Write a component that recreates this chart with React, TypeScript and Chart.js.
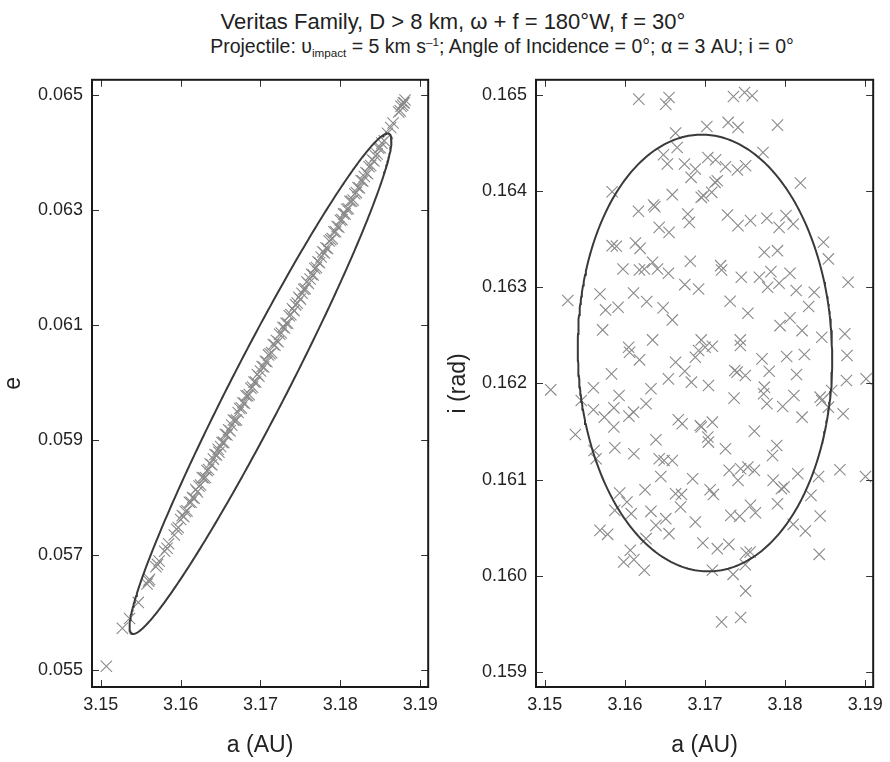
import { useEffect, useRef } from "react";
import { Chart, registerables } from "chart.js";

Chart.register(...registerables);

const FONT = '"Liberation Sans", Arial, Helvetica, sans-serif';

// ---------- Left panel: a (AU) vs e ----------
const leftA = [
  3.1507, 3.1527, 3.1536, 3.1547, 3.1558, 3.156, 3.1561, 3.1569, 3.1571, 3.1573, 3.158, 3.1583, 3.1585, 3.1592, 3.1595, 3.1597,
  3.16, 3.1602, 3.1604, 3.1606, 3.1608, 3.1611, 3.1613, 3.1615, 3.1617, 3.1619, 3.1621, 3.1623, 3.1625, 3.1627, 3.1629, 3.1631,
  3.1633, 3.1635, 3.1637, 3.1639, 3.1641, 3.1643, 3.1645, 3.1647, 3.1648, 3.165, 3.1652, 3.1654, 3.1656, 3.1658, 3.166, 3.1662,
  3.1664, 3.1666, 3.1668, 3.167, 3.1672, 3.1674, 3.1676, 3.1678, 3.168, 3.1682, 3.1684, 3.1686, 3.1688, 3.169, 3.1692, 3.1694,
  3.1696, 3.1698, 3.17, 3.1702, 3.1704, 3.1706, 3.1708, 3.171, 3.1712, 3.1714, 3.1716, 3.1718, 3.172, 3.1722, 3.1724, 3.1726,
  3.1728, 3.173, 3.1732, 3.1734, 3.1736, 3.1738, 3.174, 3.1742, 3.1744, 3.1746, 3.1748, 3.175, 3.1752, 3.1754, 3.1756, 3.1758,
  3.176, 3.1762, 3.1764, 3.1766, 3.1768, 3.177, 3.1772, 3.1774, 3.1776, 3.1778, 3.178, 3.1782, 3.1784, 3.1786, 3.1788, 3.179,
  3.1792, 3.1794, 3.1796, 3.1798, 3.18, 3.1802, 3.1804, 3.1806, 3.1808, 3.181, 3.1812, 3.1814, 3.1816, 3.1818, 3.182, 3.1822,
  3.1824, 3.1826, 3.1828, 3.183, 3.1832, 3.1834, 3.1836, 3.1838, 3.184, 3.1842, 3.1844, 3.1846, 3.1848, 3.185, 3.1852, 3.1855,
  3.1859, 3.1863, 3.1866, 3.1873, 3.1875, 3.1876, 3.1878, 3.1879, 3.188, 3.1881,
];
const leftE = [
  0.05507, 0.05573, 0.0559, 0.05618, 0.0565, 0.05655, 0.05658, 0.0568, 0.05684, 0.0569, 0.05707, 0.05712, 0.0572, 0.05735, 0.05745, 0.05748,
  0.05762, 0.05769, 0.05767, 0.05776, 0.05777, 0.05792, 0.05792, 0.058, 0.05799, 0.05814, 0.0581, 0.0582, 0.05822, 0.05835, 0.05834, 0.05835,
  0.05847, 0.05849, 0.05859, 0.05857, 0.05867, 0.05875, 0.05874, 0.05884, 0.05879, 0.05889, 0.05896, 0.05896, 0.0591, 0.05909, 0.05918, 0.05916,
  0.05926, 0.05935, 0.05934, 0.05935, 0.05948, 0.05955, 0.05956, 0.05965, 0.05964, 0.05977, 0.05977, 0.05979, 0.0599, 0.05992, 0.06001, 0.06001,
  0.06014, 0.06011, 0.0602, 0.06028, 0.06027, 0.06037, 0.06036, 0.06048, 0.0605, 0.06052, 0.06066, 0.06065, 0.06073, 0.06071, 0.06084, 0.06086,
  0.06096, 0.06095, 0.06103, 0.06103, 0.06116, 0.06118, 0.06128, 0.06125, 0.06135, 0.06138, 0.06148, 0.06145, 0.06155, 0.06162, 0.06163, 0.06175,
  0.06172, 0.0618, 0.06188, 0.06187, 0.06198, 0.062, 0.0621, 0.06208, 0.06218, 0.06227, 0.06225, 0.06234, 0.06233, 0.06246, 0.06248, 0.0625,
  0.06262, 0.06262, 0.06271, 0.0627, 0.06282, 0.06283, 0.06293, 0.06293, 0.06301, 0.06302, 0.06315, 0.06315, 0.06317, 0.06328, 0.0633, 0.06339,
  0.06338, 0.06351, 0.0635, 0.06358, 0.06365, 0.06363, 0.06375, 0.06377, 0.06387, 0.06385, 0.06394, 0.06397, 0.06407, 0.06408, 0.06416, 0.0642,
  0.06433, 0.06443, 0.06451, 0.0647, 0.06472, 0.0648, 0.06482, 0.06486, 0.06486, 0.06491,
];

// ---------- Right panel: a (AU) vs i (rad) ----------
const rightA = [
  3.16173, 3.1651, 3.16551, 3.17355, 3.17494, 3.17589, 3.17023, 3.17289, 3.17412, 3.17905, 3.16633, 3.16653, 3.16481, 3.1653, 3.16744, 3.16879,
  3.16826, 3.17035, 3.17133, 3.17256, 3.17404, 3.17507, 3.17724, 3.17125, 3.17154, 3.16982, 3.17084, 3.16953, 3.15841, 3.18192, 3.16592, 3.16169,
  3.16358, 3.16374, 3.16785, 3.16805, 3.16428, 3.16551, 3.17281, 3.17412, 3.17568, 3.17773, 3.17925, 3.18011, 3.18102, 3.15841, 3.15894, 3.16132,
  3.1619, 3.17741, 3.17905, 3.18479, 3.18541, 3.15976, 3.16182, 3.16243, 3.16346, 3.16407, 3.16543, 3.16817, 3.17195, 3.17207, 3.17453, 3.17679,
  3.17823, 3.17782, 3.17925, 3.18061, 3.16748, 3.1692, 3.15287, 3.15689, 3.15759, 3.15915, 3.16108, 3.16272, 3.16477, 3.16592, 3.17314, 3.17535,
  3.18139, 3.18364, 3.18294, 3.18787, 3.15722, 3.16046, 3.16058, 3.16182, 3.16346, 3.16633, 3.16748, 3.16879, 3.16953, 3.17002, 3.17092, 3.1692,
  3.17441, 3.17441, 3.17712, 3.17937, 3.18061, 3.18212, 3.1802, 3.18241, 3.18458, 3.18746, 3.18774, 3.15833, 3.17371, 3.174, 3.17503, 3.17802,
  3.18143, 3.16543, 3.19012, 3.18766,
  3.15074, 3.15607, 3.15927, 3.16325, 3.1683, 3.17043, 3.17741, 3.17732, 3.17773, 3.17363, 3.1797, 3.1811, 3.18438, 3.18458, 3.18582, 3.15455,
  3.15607, 3.15743, 3.15862, 3.15862, 3.1605, 3.16108, 3.16264, 3.15382, 3.15615, 3.1564, 3.15874, 3.16112, 3.16387, 3.16428, 3.16489, 3.16592,
  3.16666, 3.16715, 3.16941, 3.16953, 3.17092, 3.17035, 3.17043, 3.17256, 3.17617, 3.17896, 3.17843, 3.18212, 3.18541, 3.18725, 3.17302, 3.17412,
  3.17445, 3.17535, 3.17617, 3.17851, 3.17987, 3.17954, 3.18159, 3.18418, 3.18684, 3.19004, 3.16448, 3.16846, 3.17064, 3.17105, 3.16251, 3.15935,
  3.16026, 3.15874, 3.16079, 3.16325, 3.16387, 3.1651, 3.16551, 3.16633, 3.16707, 3.16694, 3.16879, 3.15689, 3.15784, 3.16264, 3.16067, 3.15985,
  3.16112, 3.16243, 3.16973, 3.17154, 3.17297, 3.17322, 3.17433, 3.17568, 3.1763, 3.17905, 3.18102, 3.18253, 3.18323, 3.18438, 3.18426, 3.17515,
  3.17564, 3.17503, 3.17092, 3.17351, 3.17507, 3.17207, 3.17445,
];
const rightI = [
  0.164955, 0.164903, 0.164972, 0.164983, 0.165024, 0.16499, 0.164671, 0.164713, 0.164661, 0.164685, 0.164602, 0.164453, 0.164377, 0.16428, 0.16428, 0.164228,
  0.164142, 0.164349, 0.164325, 0.164252, 0.164218, 0.164263, 0.164401, 0.16409, 0.164107, 0.163951, 0.163986, 0.163934, 0.163993, 0.164083, 0.163962, 0.163789,
  0.163854, 0.163837, 0.163761, 0.163674, 0.163622, 0.16357, 0.16375, 0.16364, 0.163692, 0.163716, 0.163622, 0.163744, 0.163657, 0.163432, 0.163425, 0.16346,
  0.163404, 0.163363, 0.16338, 0.163467, 0.163294, 0.16319, 0.163179, 0.16319, 0.163259, 0.16319, 0.163145, 0.163269, 0.163224, 0.163179, 0.163103, 0.163103,
  0.163162, 0.162999, 0.163041, 0.163145, 0.163027, 0.162982, 0.162861, 0.16293, 0.162764, 0.162792, 0.16294, 0.16285, 0.162785, 0.16266, 0.162854, 0.162729,
  0.162965, 0.162947, 0.162799, 0.163051, 0.162556, 0.162376, 0.162324, 0.162245, 0.162452, 0.16222, 0.162127, 0.162272, 0.162452, 0.162376, 0.162387, 0.162342,
  0.162452, 0.162394, 0.162255, 0.162601, 0.162681, 0.162549, 0.162279, 0.1623, 0.16248, 0.162515, 0.16229, 0.162099, 0.162134, 0.162117, 0.162082, 0.162127,
  0.162092, 0.162047, 0.162047, 0.16203,
  0.161933, 0.161954, 0.161874, 0.161944, 0.162013, 0.161978, 0.161961, 0.161892, 0.161788, 0.161847, 0.16176, 0.161874, 0.161857, 0.161822, 0.161926, 0.161822,
  0.161726, 0.161649, 0.161746, 0.161546, 0.16166, 0.161701, 0.161788, 0.161469, 0.161303, 0.161217, 0.161331, 0.161269, 0.161414, 0.161217, 0.161199, 0.161199,
  0.161622, 0.16158, 0.161563, 0.161546, 0.161597, 0.161442, 0.16139, 0.16132, 0.161504, 0.161355, 0.161251, 0.161649, 0.161753, 0.161684, 0.161096, 0.160992,
  0.161113, 0.16113, 0.161096, 0.160992, 0.160922, 0.160905, 0.161061, 0.161033, 0.161102, 0.161033, 0.161033, 0.161009, 0.160895, 0.160846, 0.160895, 0.16086,
  0.160767, 0.16068, 0.160646, 0.16067, 0.160524, 0.160594, 0.160438, 0.160853, 0.160846, 0.160715, 0.160559, 0.160472, 0.160431, 0.160386, 0.160265, 0.160144,
  0.160168, 0.160057, 0.160341, 0.160282, 0.160327, 0.160628, 0.160618, 0.160732, 0.160656, 0.160749, 0.160535, 0.160466, 0.160836, 0.160621, 0.160223, 0.160237,
  0.160247, 0.160116, 0.160057, 0.160015, 0.159843, 0.159521, 0.159566,
];

// Tick values
const xTickValues = [3.15, 3.16, 3.17, 3.18, 3.19];
const leftYTickValues = [0.055, 0.057, 0.059, 0.061, 0.063, 0.065];
const rightYTickValues = [0.159, 0.16, 0.161, 0.162, 0.163, 0.164, 0.165];

// Fitted ellipses: centre, conjugate semi-diameter A (dx, dy), conjugate semi-diameter B (dx, dy)
const leftEllipseCenter = [3.17, 0.05998];
const leftEllipseA = [0.01593, 0.004348];
const leftEllipseB = [0.0039, 0];
const rightEllipseCenter = [3.17, 0.162316];
const rightEllipseA = [-0.0004, 0.00227];
const rightEllipseB = [0.01588, 0];

const frameTicks = {
  id: "frameTicks",
  afterDatasetsDraw(chart: any) {
    const { ctx, chartArea, scales } = chart;
    const { left, right, top, bottom } = chartArea;
    const len = 7;
    ctx.save();
    ctx.strokeStyle = "#333";
    ctx.lineWidth = 1;
    ctx.beginPath();
    scales.x.ticks.forEach((t: any) => {
      const px = Math.round(scales.x.getPixelForValue(t.value)) + 0.5;
      ctx.moveTo(px, bottom);
      ctx.lineTo(px, bottom - len);
      ctx.moveTo(px, top);
      ctx.lineTo(px, top + len);
    });
    scales.y.ticks.forEach((t: any) => {
      const py = Math.round(scales.y.getPixelForValue(t.value)) + 0.5;
      ctx.moveTo(left, py);
      ctx.lineTo(left + len, py);
      ctx.moveTo(right, py);
      ctx.lineTo(right - len, py);
    });
    ctx.stroke();
    ctx.lineWidth = 2;
    ctx.strokeStyle = "#1a1a1a";
    ctx.strokeRect(left, top, right - left, bottom - top);
    ctx.restore();
  },
};

function ellipsePoints(c: number[], A: number[], B: number[]) {
  const pts: { x: number; y: number }[] = [];
  const n = 360;
  for (let k = 0; k <= n; k++) {
    const t = (k / n) * Math.PI * 2;
    pts.push({
      x: c[0] + A[0] * Math.cos(t) + B[0] * Math.sin(t),
      y: c[1] + A[1] * Math.cos(t) + B[1] * Math.sin(t),
    });
  }
  return pts;
}

function buildConfig(p: {
  xs: number[];
  ys: number[];
  center: number[];
  A: number[];
  B: number[];
  yMin: number;
  yMax: number;
  yTicks: number[];
  yTitle: string;
  yWidth: number;
  padRight: number;
}): any {
  return {
    type: "scatter",
    data: {
      datasets: [
        {
          data: ellipsePoints(p.center, p.A, p.B),
          showLine: true,
          borderColor: "#3a3a3a",
          borderWidth: 2,
          pointRadius: 0,
          pointHoverRadius: 0,
          fill: false,
          tension: 0,
        },
        {
          data: p.xs.map((x, i) => ({ x, y: p.ys[i] })),
          pointStyle: "crossRot",
          pointRadius: 8,
          pointHoverRadius: 8,
          borderColor: "#8a8a8a",
          backgroundColor: "rgba(0,0,0,0)",
          borderWidth: 1.1,
        },
      ],
    },
    options: {
      responsive: false,
      animation: false,
      devicePixelRatio: 1,
      events: [],
      layout: { padding: { top: 19, right: p.padRight, bottom: 3, left: 0 } },
      plugins: { legend: { display: false }, tooltip: { enabled: false } },
      scales: {
        x: {
          type: "linear",
          min: 3.1489,
          max: 3.191,
          afterBuildTicks: (s: any) => {
            s.ticks = xTickValues.map((v) => ({ value: v }));
          },
          afterFit: (s: any) => {
            s.height = 72;
          },
          grid: { display: false, drawTicks: false },
          border: { display: false },
          ticks: {
            color: "#222",
            padding: 7,
            font: { family: FONT, size: 18 },
            callback: (v: any) => Number(v).toFixed(2),
          },
          title: {
            display: true,
            text: "a (AU)",
            color: "#222",
            padding: 0,
            font: { family: FONT, size: 23, lineHeight: 1.2 },
          },
        },
        y: {
          type: "linear",
          min: p.yMin,
          max: p.yMax,
          afterBuildTicks: (s: any) => {
            s.ticks = p.yTicks.map((v) => ({ value: v }));
          },
          afterFit: (s: any) => {
            s.width = p.yWidth;
          },
          grid: { display: false, drawTicks: false },
          border: { display: false },
          ticks: {
            color: "#222",
            padding: 9,
            font: { family: FONT, size: 18 },
            callback: (v: any) => Number(v).toFixed(3),
          },
          title: {
            display: true,
            text: p.yTitle,
            color: "#222",
            padding: 0,
            font: { family: FONT, size: 23, lineHeight: 1.2 },
          },
        },
      },
    },
    plugins: [frameTicks],
  };
}

export default function App() {
  const leftRef = useRef<HTMLCanvasElement>(null);
  const rightRef = useRef<HTMLCanvasElement>(null);

  useEffect(() => {
    const c1 = new Chart(
      leftRef.current as HTMLCanvasElement,
      buildConfig({
        xs: leftA,
        ys: leftE,
        center: leftEllipseCenter,
        A: leftEllipseA,
        B: leftEllipseB,
        yMin: 0.05471,
        yMax: 0.06526,
        yTicks: leftYTickValues,
        yTitle: "e",
        yWidth: 92,
        padRight: 12,
      })
    );
    const c2 = new Chart(
      rightRef.current as HTMLCanvasElement,
      buildConfig({
        xs: rightA,
        ys: rightI,
        center: rightEllipseCenter,
        A: rightEllipseA,
        B: rightEllipseB,
        yMin: 0.158844,
        yMax: 0.165156,
        yTicks: rightYTickValues,
        yTitle: "i (rad)",
        yWidth: 91,
        padRight: 13,
      })
    );
    return () => {
      c1.destroy();
      c2.destroy();
    };
  }, []);

  return (
    <div
      style={{
        position: "absolute",
        left: 0,
        top: 0,
        width: 890,
        height: 762,
        background: "#fff",
        fontFamily: FONT,
        color: "#222",
      }}
    >
      <div
        style={{
          position: "absolute",
          left: 453 - 400,
          width: 800,
          top: 11,
          fontSize: 22,
          lineHeight: "22px",
          textAlign: "center",
          whiteSpace: "nowrap",
        }}
      >
        Veritas Family, D &gt; 8 km, ω + f = 180°W, f = 30°
      </div>
      <div
        style={{
          position: "absolute",
          left: 502 - 400,
          width: 800,
          top: 37,
          fontSize: 19.5,
          lineHeight: "19.5px",
          textAlign: "center",
          whiteSpace: "nowrap",
        }}
      >
        Projectile: υ
        <sub style={{ fontSize: "60%", lineHeight: 0, verticalAlign: "-0.35em" }}>impact</sub> = 5 km s
        <sup style={{ fontSize: "60%", lineHeight: 0, verticalAlign: "0.6em" }}>–1</sup>; Angle of Incidence = 0°; α = 3
        AU; i = 0°
      </div>
      <canvas ref={leftRef} width={445} height={702} style={{ position: "absolute", left: 0, top: 60 }} />
      <canvas ref={rightRef} width={445} height={702} style={{ position: "absolute", left: 445, top: 60 }} />
    </div>
  );
}
